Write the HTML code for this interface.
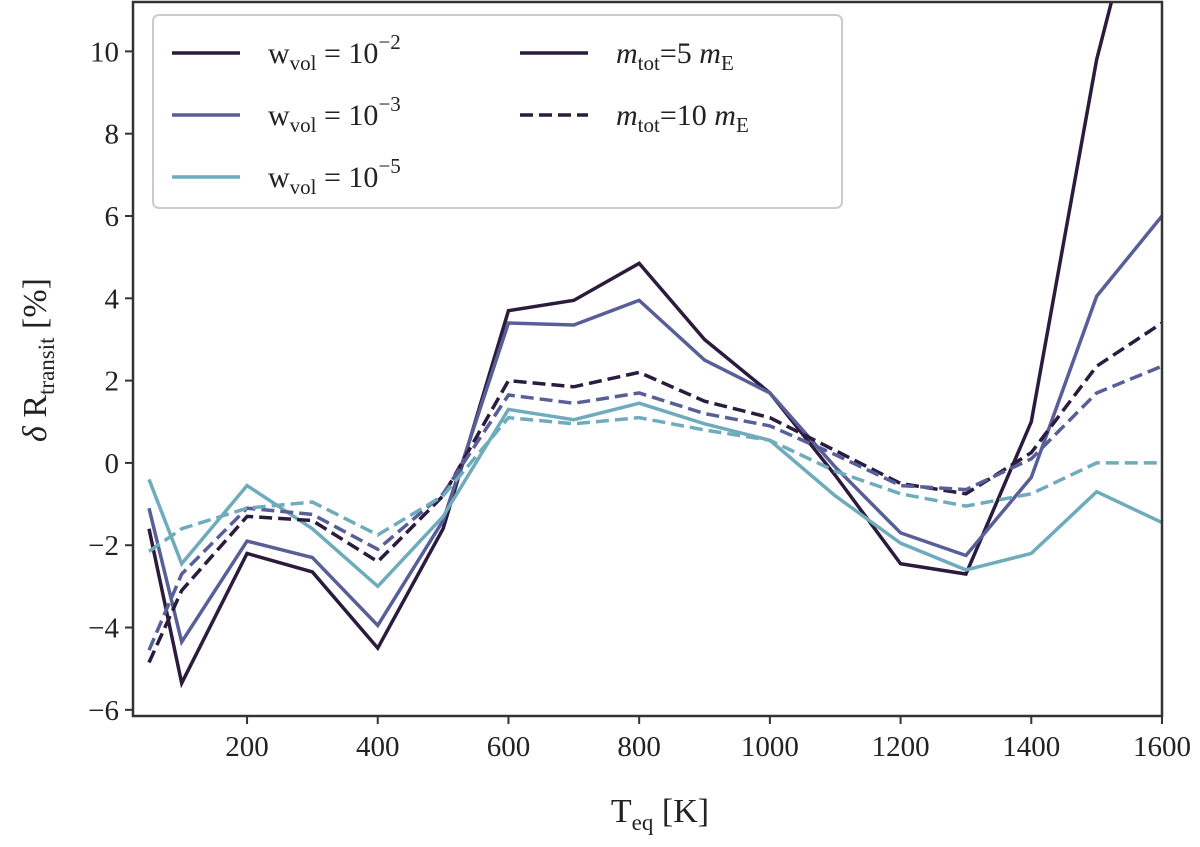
<!DOCTYPE html>
<html><head><meta charset="utf-8"><style>
body{margin:0;background:#fff}
svg text{font-family:"Liberation Serif",serif;fill:#222}
</style></head><body>
<svg id="chart" width="1200" height="842"></svg>
<script>
const temps=[50,100,200,300,400,500,600,700,800,900,1000,1100,1200,1300,1400,1500,1600];
const solidW2=[-1.6,-5.35,-2.2,-2.65,-4.5,-1.6,3.7,3.95,4.85,3.0,1.7,-0.3,-2.45,-2.7,1.0,9.8,16];
const solidW3=[-1.1,-4.35,-1.9,-2.3,-3.95,-1.4,3.4,3.35,3.95,2.5,1.7,-0.1,-1.7,-2.25,-0.35,4.05,6.0];
const solidW5=[-0.4,-2.45,-0.55,-1.6,-3.0,-1.3,1.3,1.05,1.45,0.95,0.55,-0.8,-1.95,-2.6,-2.2,-0.7,-1.45];
const dashW2=[-4.85,-3.1,-1.3,-1.4,-2.4,-0.8,2.0,1.85,2.2,1.5,1.1,0.3,-0.5,-0.75,0.25,2.35,3.4];
const dashW3=[-4.55,-2.7,-1.1,-1.25,-2.1,-0.75,1.65,1.45,1.7,1.2,0.9,0.2,-0.55,-0.65,0.1,1.7,2.35];
const dashW5=[-2.15,-1.6,-1.1,-0.95,-1.75,-0.8,1.1,0.95,1.1,0.8,0.55,-0.2,-0.75,-1.05,-0.75,0,0];
const xTicks=[200,400,600,800,1000,1200,1400,1600];
const yTicks=[-6,-4,-2,0,2,4,6,8,10];

const L=133,R=1162,T=2,B=716;
const xMin=25.5,xMax=1600,yMin=-6.15,yMax=11.2;
const X=v=>L+(v-xMin)/(xMax-xMin)*(R-L);
const Y=v=>B-(v-yMin)/(yMax-yMin)*(B-T);
const NS="http://www.w3.org/2000/svg";
const svg=document.getElementById('chart');
function mk(t,a,p){const e=document.createElementNS(NS,t);for(const k in a)e.setAttribute(k,a[k]);(p||svg).appendChild(e);return e;}
const defs=mk('defs',{});const cp=mk('clipPath',{id:'clip'},defs);mk('rect',{x:L,y:T,width:R-L,height:B-T},cp);
const plot=mk('g',{'clip-path':'url(#clip)'});


const series=[
 ['line-5me-w1e-2',solidW2,'#2b1b3d',false],['line-5me-w1e-3',solidW3,'#585e98',false],['line-5me-w1e-5',solidW5,'#6eacbc',false],
 ['line-10me-w1e-2',dashW2,'#2b1b3d',true],['line-10me-w1e-3',dashW3,'#585e98',true],['line-10me-w1e-5',dashW5,'#6eacbc',true]];
for(const [n,d,c,dash] of series){
 const p=mk('polyline',{points:d.map((v,i)=>X(temps[i])+','+Y(v)).join(' '),fill:'none',stroke:c,'stroke-width':3.5,'stroke-dasharray':dash?'13,6':'none'},plot);
 
 
}
const fr=mk('rect',{x:L,y:T,width:R-L,height:B-T,fill:'none',stroke:'#333','stroke-width':2.5});


for(const t of xTicks){
 mk('line',{x1:X(t),x2:X(t),y1:B,y2:B+8,stroke:'#333','stroke-width':2});
 const e=mk('text',{x:X(t),y:B+40,'text-anchor':'middle','font-size':29});e.textContent=t;
 
 
}
for(const t of yTicks){
 mk('line',{x1:L-8,x2:L,y1:Y(t),y2:Y(t),stroke:'#333','stroke-width':2});
 const e=mk('text',{x:L-14,y:Y(t)+10,'text-anchor':'end','font-size':29});e.textContent=t<0?'\u2212'+(-t):t;
 
 
}
</script>
<svg width="1200" height="842" style="position:absolute;left:0;top:0">
 <text x="660" y="822" text-anchor="middle" font-size="34">T<tspan font-size="23" dy="8">eq</tspan><tspan dy="-8"> [K]</tspan></text>
 <text transform="translate(46,360) rotate(-90)" text-anchor="middle" font-size="34"><tspan font-style="italic">δ</tspan> R<tspan font-size="23" dy="8">transit</tspan><tspan dy="-8"> [%]</tspan></text>
 <g>
  <rect x="153" y="15" width="689" height="193" rx="6" fill="#fff" fill-opacity="0.9" stroke="#ccc" stroke-width="2"/>
  <line x1="172" x2="240" y1="53" y2="53" stroke="#2b1b3d" stroke-width="3.5"/>
  <text x="268" y="63" font-size="30">w<tspan font-size="21" dy="7">vol</tspan><tspan dy="-7"> = 10</tspan><tspan font-size="21" dy="-14">−2</tspan></text>
  <line x1="172" x2="240" y1="115" y2="115" stroke="#585e98" stroke-width="3.5"/>
  <text x="268" y="125" font-size="30">w<tspan font-size="21" dy="7">vol</tspan><tspan dy="-7"> = 10</tspan><tspan font-size="21" dy="-14">−3</tspan></text>
  <line x1="172" x2="240" y1="177" y2="177" stroke="#6eacbc" stroke-width="3.5"/>
  <text x="268" y="187" font-size="30">w<tspan font-size="21" dy="7">vol</tspan><tspan dy="-7"> = 10</tspan><tspan font-size="21" dy="-14">−5</tspan></text>
  <line x1="520" x2="588" y1="53" y2="53" stroke="#2b1b3d" stroke-width="3.5"/>
  <text x="616" y="63" font-size="30"><tspan font-style="italic">m</tspan><tspan font-size="21" dy="7">tot</tspan><tspan dy="-7">=5 </tspan><tspan font-style="italic">m</tspan><tspan font-size="21" dy="7">E</tspan></text>
  <line x1="520" x2="588" y1="115" y2="115" stroke="#2b1b3d" stroke-width="3.5" stroke-dasharray="13,6"/>
  <text x="616" y="125" font-size="30"><tspan font-style="italic">m</tspan><tspan font-size="21" dy="7">tot</tspan><tspan dy="-7">=10 </tspan><tspan font-style="italic">m</tspan><tspan font-size="21" dy="7">E</tspan></text>
 </g>
</svg>
</body></html>
